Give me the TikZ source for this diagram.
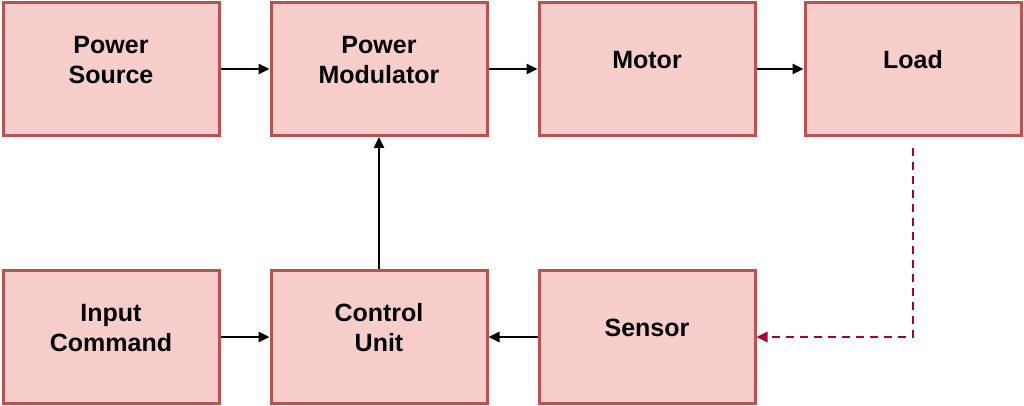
\documentclass[tikz,border=0pt]{standalone}
\usepackage{fontspec}
\setmainfont{Liberation Sans}
\usetikzlibrary{arrows.meta}
\definecolor{bfill}{HTML}{F8CECC}
\definecolor{bdraw}{HTML}{B85450}
\definecolor{fb}{HTML}{A50040}
\begin{document}
\begin{tikzpicture}[x=1pt,y=-1pt,
  box/.style={draw=bdraw,fill=bfill,line width=3pt,minimum width=216pt,minimum height=133pt,inner sep=0pt},
  lbl/.style={font=\fontsize{25}{30}\selectfont\bfseries,align=center},
  arr/.style={line width=2.5pt,-{Triangle[length=11pt,width=10pt]}}]
\useasboundingbox (0,0) rectangle (1024,406);
\node[box] (ps) at (111,69) {};
\node[box] (pm) at (379,69) {};
\node[box] (mo) at (647,69) {};
\node[box] (lo) at (913,69) {};
\node[box] (ic) at (111,337) {};
\node[box] (cu) at (379,337) {};
\node[box] (se) at (647,337) {};
\node[lbl] at (111,60) {Power\\Source};
\node[lbl] at (379,60) {Power\\Modulator};
\node[lbl] at (647,60) {Motor};
\node[lbl] at (913,60) {Load};
\node[lbl] at (111,328) {Input\\Command};
\node[lbl] at (379,328) {Control\\Unit};
\node[lbl] at (647,328) {Sensor};
\draw[arr] (ps.east) -- (pm.west);
\draw[arr] (pm.east) -- (mo.west);
\draw[arr] (mo.east) -- (lo.west);
\draw[arr] (cu.north) -- (pm.south);
\draw[arr] (ic.east) -- (cu.west);
\draw[arr] (se.west) -- (cu.east);
\coordinate (d0) at (913,148);
\draw[fb,line width=2.5pt,dash pattern=on 8pt off 6pt,-{Triangle[length=11pt,width=10pt]}] (d0) |- (se.east);
\end{tikzpicture}
\end{document}
